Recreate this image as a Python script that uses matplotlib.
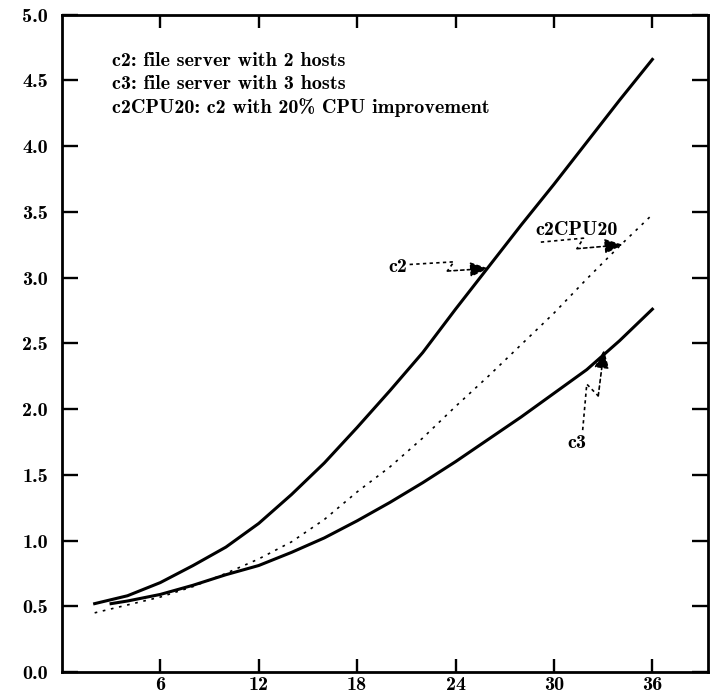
import matplotlib.pyplot as plt

# response curves
c2_x = [2, 4, 6, 8, 10, 12, 14, 16, 18, 20, 22, 24, 26, 28, 30, 32, 34, 36]
c2_y = [0.52, 0.58, 0.68, 0.81, 0.95, 1.13, 1.35, 1.59, 1.86, 2.14, 2.43, 2.76,
        3.08, 3.40, 3.71, 4.03, 4.35, 4.66]

c3_x = [3, 4, 6, 8, 10, 12, 14, 16, 18, 20, 22, 24, 26, 28, 30, 32, 34, 36]
c3_y = [0.52, 0.54, 0.59, 0.66, 0.74, 0.81, 0.91, 1.02, 1.15, 1.29, 1.44, 1.60,
        1.77, 1.94, 2.12, 2.30, 2.52, 2.76]

cpu_x = [2, 4, 6, 8, 10, 12, 14, 16, 18, 20, 22, 24, 26, 28, 30, 32, 34, 36]
cpu_y = [0.45, 0.51, 0.57, 0.65, 0.75, 0.86, 0.99, 1.16, 1.37, 1.56, 1.78, 2.02,
         2.25, 2.49, 2.73, 2.99, 3.24, 3.48]

x_ticks = [6, 12, 18, 24, 30, 36]
y_ticks = [0.0, 0.5, 1.0, 1.5, 2.0, 2.5, 3.0, 3.5, 4.0, 4.5, 5.0]
y_labels = ["%.1f" % v for v in y_ticks]

legend_lines = ["c2: file server with 2 hosts",
                "c3: file server with 3 hosts",
                "c2CPU20: c2 with 20% CPU improvement"]

plt.rcParams['font.family'] = ['cmb10', 'DejaVu Serif']

fig = plt.figure(figsize=(7.11, 7.0), dpi=100)
ax = fig.add_axes([0.087, 0.04, 0.909, 0.939])

ax.plot(c2_x, c2_y, color="black", lw=2.2, solid_joinstyle="round")
ax.plot(c3_x, c3_y, color="black", lw=2.2, solid_joinstyle="round")
ax.plot(cpu_x, cpu_y, color="black", lw=1.2, linestyle=(0, (1.6, 3.4)))

ax.set_xlim(0, 39.4)
ax.set_ylim(0, 5.0)

ax.set_xticks(x_ticks)
ax.set_xticklabels([str(v) for v in x_ticks])
ax.set_yticks(y_ticks)
ax.set_yticklabels(y_labels)
ax.tick_params(axis="x", direction="in", length=9.5, width=1.7, top=True,
               labelsize=14.5, pad=3)
ax.tick_params(axis="y", direction="in", length=11.5, width=1.7, right=True,
               labelsize=14.5, pad=10)
for s in ax.spines.values():
    s.set_linewidth(2.0)

# legend text in the upper left
for i, line in enumerate(legend_lines):
    ax.text(0.077, 0.93 - i * 0.036, line, transform=ax.transAxes,
            fontsize=14.5, va="center", ha="left")

leader = dict(color="black", lw=1.2, linestyle=(0, (2, 2)))
head = dict(arrowstyle="-|>,head_length=1.1,head_width=0.45", color="black",
            lw=1.2, linestyle=(0, (2, 2)), shrinkA=0, shrinkB=0)

# c2 label and dotted leader
ax.text(20.5, 3.08, "c2", fontsize=14.5, ha="center", va="center")
ax.plot([21.2, 23.9, 23.5], [3.10, 3.12, 3.05], **leader)
ax.annotate("", xy=(26.0, 3.07), xytext=(23.5, 3.05), arrowprops=head)

# c2CPU20 label and leader
ax.text(31.4, 3.36, "c2CPU20", fontsize=14.5, ha="center", va="center")
ax.plot([29.2, 31.8, 31.4], [3.27, 3.30, 3.22], **leader)
ax.annotate("", xy=(34.2, 3.25), xytext=(31.4, 3.22), arrowprops=head)

# c3 label and leader
ax.text(31.4, 1.74, "c3", fontsize=14.5, ha="center", va="center")
ax.plot([31.75, 32.0, 32.7], [1.84, 2.19, 2.10], **leader)
ax.annotate("", xy=(33.05, 2.45), xytext=(32.7, 2.10), arrowprops=head)

fig.savefig("out.png", dpi=100)
